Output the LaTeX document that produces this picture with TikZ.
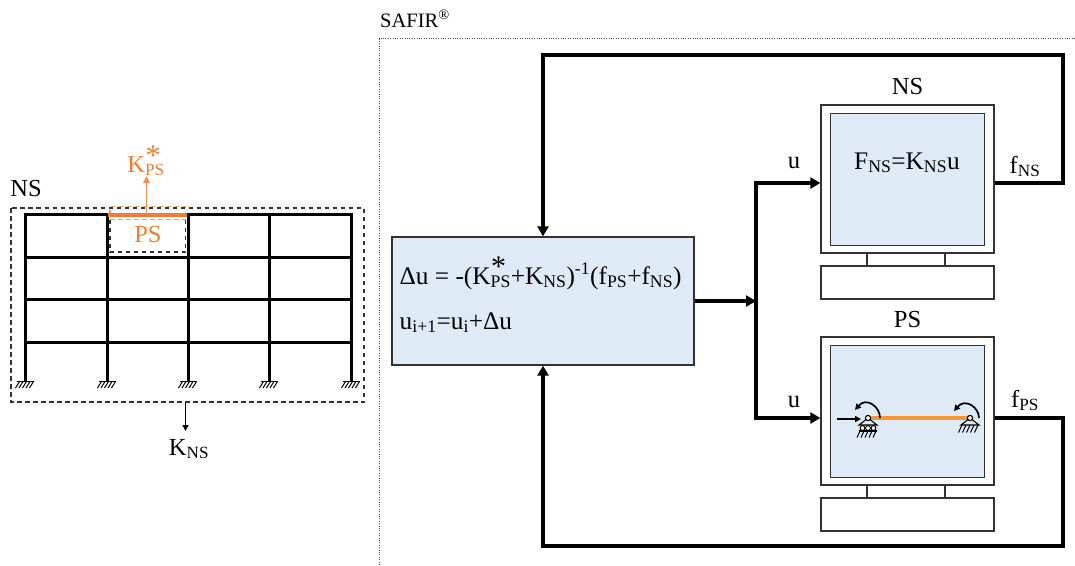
\documentclass[tikz,border=0pt]{standalone}
\usepackage{fontspec}
\setmainfont{Liberation Serif}
\usetikzlibrary{arrows.meta,calc}
\definecolor{paneblue}{RGB}{222,234,246}
\definecolor{psorange}{RGB}{237,125,49}
\definecolor{beamorange}{RGB}{247,150,50}
\newcommand{\sbs}[1]{\textsubscript{#1}}
\newcommand{\kstar}{K\rlap{\raisebox{0.28em}{\hspace{0.02em}\fontsize{30}{30}\selectfont *}}\sbs{PS}}
\tikzset{
  txt/.style={inner sep=0pt,font=\fontsize{24.5}{26}\selectfont},
  eqtxt/.style={inner sep=0pt,font=\fontsize{25.3}{27}\selectfont},
  flow/.style={line width=3.8pt,-{Triangle[length=10pt,width=11pt]},line join=miter},
  thin arrow/.style={line width=1.1pt,-{Triangle[length=6pt,width=6pt]}},
  pane/.style={draw=black!80,line width=1.3pt,fill=paneblue,inner sep=0pt,minimum width=153.5pt,minimum height=131.5pt},
  shell/.style={draw=black!80,line width=1.3pt,fill=white,inner sep=0pt,minimum width=173pt,minimum height=148pt},
  basebox/.style={draw=black!80,line width=1.3pt,fill=white,inner sep=0pt,minimum width=173pt,minimum height=33pt},
  member/.style={line width=3pt},
  dbox/.style={dash pattern=on 4.5pt off 3.5pt,line width=1.15pt,draw=black!80},
  obox/.style={dash pattern=on 4.5pt off 3.5pt,line width=1.15pt,draw=psorange!75},
}
\newcommand{\hatchrow}[2]{%
  \draw[line width=1.3pt] (#1-8,#2) -- (#1+9,#2);
  \foreach \k in {-7,-3.5,0,3.5,7}{\draw[line width=1pt] (#1+\k+1.5,#2) -- (#1+\k-2.5,#2+6.5);}
}
\begin{document}
\begin{tikzpicture}[x=1pt,y=-1pt]
\useasboundingbox (0,0) rectangle (1075,565);
% SAFIR region
\coordinate (safirbl) at (379,565);
\coordinate (safirtl) at (379,38.5);
\coordinate (safirtr) at (1075,38.5);
\draw[black!70,line width=1pt,dash pattern=on 1pt off 1.4pt] (safirbl) -- (safirtl) -- (safirtr);
\node[anchor=base west,inner sep=0pt,font=\fontsize{20.5}{22}\selectfont] (safir) at (380,27) {SAFIR\textsuperscript{®}};
% Main box
\node[draw=black!80,line width=1.3pt,fill=paneblue,minimum width=302pt,minimum height=128pt,inner sep=0pt] (main) at (543,301) {};
\node[eqtxt,anchor=base west] (eq1) at (399.5,284) {Δu = -(\kstar+K\sbs{NS})\textsuperscript{-1}(f\sbs{PS}+f\sbs{NS})};
\node[eqtxt,anchor=base west] (eq2) at (399.5,329) {u\sbs{i+1}=u\sbs{i}+Δu};
% NS monitor
\node[shell] (nsshell) at (907.5,179) {};
\node[pane] (nspane) at (907.5,179.5) {};
\node[basebox] (nsbase) at (907.5,282.5) {};
\draw[black!80,line width=1.3pt] (867,253) -- (867,266) (945,253) -- (945,266);
\node[txt] (nstitle) at (907.5,87) {NS};
\node[eqtxt,anchor=base] (nseq) at (907,169) {F\sbs{NS}=K\sbs{NS}u};
% PS monitor
\node[shell] (psshell) at (907.5,411) {};
\node[pane] (pspane) at (907.5,411.5) {};
\node[basebox] (psbase) at (907.5,514.5) {};
\draw[black!80,line width=1.3pt] (867,485) -- (867,498) (945,485) -- (945,498);
\node[txt] (pstitle) at (907.5,320) {PS};
% flows
\coordinate (jn) at (756,301);
\coordinate (jnu) at (756,183);
\coordinate (jnd) at (756,418);
\coordinate (nsin) at (nsshell.west |- jnu);
\coordinate (psin) at (psshell.west |- jnd);
\draw[flow] (main.east) -- (jn);
\draw[flow] (jn) -- (jnu) -- (nsin);
\draw[flow] (jn) -- (jnd) -- (psin);
\coordinate (nsout) at (nsshell.east |- jnu);
\coordinate (psout) at (psshell.east |- jnd);
\coordinate (tr) at (1063,55);
\coordinate (br) at (1063,546);
\draw[flow] (nsout) -- (tr |- nsout) -- (tr) -- (main.north |- tr) -- (main.north);
\draw[flow] (psout) -- (br |- psout) -- (br) -- (main.south |- br) -- (main.south);
\node[txt,anchor=base] (u1) at (794,168) {u};
\node[txt,anchor=base] (u2) at (794,407) {u};
\node[txt,anchor=base] (fns) at (1025,173) {f\sbs{NS}};
\node[txt,anchor=base] (fps) at (1025,407) {f\sbs{PS}};
% PS beam
\draw[beamorange,line width=4pt] (871,418) -- (968,418);
\draw[line width=1.7pt,-{Triangle[length=6pt,width=6pt]}] (837,419) -- (861,419);
\draw[line width=1.7pt,-{Triangle[length=6pt,width=6pt]}] (880,418) .. controls (880,406) and (866,397) .. (855,410);
\draw[line width=1.7pt,-{Triangle[length=6pt,width=6pt]}] (979,418) .. controls (979,407) and (965,398) .. (954,411);
\foreach \hx in {868,970}{
  \draw[line width=1.1pt] (\hx,418) -- (\hx-9,425) -- (\hx+9,425) -- cycle;
  \draw[line width=1.1pt,fill=white] (\hx,418) circle (2.6);
}
\foreach \rx in {862.5,868,873.5}{\draw[line width=0.9pt,fill=white] (\rx,428) circle (2.4);}
\draw[line width=1.3pt] (859,431) -- (877,431);
\foreach \k in {0,4,8,12,16}{\draw[line width=1pt] (860+\k,431) -- (857+\k,437.5);}
\foreach \k in {0,4,8,12,16}{\draw[line width=1pt] (962+\k,425) -- (958.5+\k,432.5);}
% Left frame
\draw[dbox] (11,208) rectangle (364,402);
\coordinate (kdown) at (185.5,402);
\coordinate (kend) at (185.5,431);
\draw[thin arrow] (kdown) -- (kend);
\node[txt,anchor=base] (kns) at (189,455) {K\sbs{NS}};
\node[txt] (nsl) at (26,189) {NS};
\foreach \cx in {25,107,188,269,351}{
  \draw[member] (\cx,212.5) -- (\cx,381);
  \hatchrow{\cx}{381.5}
}
\foreach \fy in {214,257,299,342}{\draw[member] (25,\fy) -- (351,\fy);}
% PS box
\draw[obox] (110,219.5) -- (185.5,219.5);
\draw[obox] (110,214) -- (110,206.5) -- (185.5,206.5) -- (185.5,214);
\draw[dbox] (110,219.5) -- (110,252) -- (185.5,252) -- (185.5,219.5);
\draw[psorange,line width=4pt] (108,214.5) -- (187,214.5);
\coordinate (kps0) at (146.5,214);
\coordinate (kps1) at (146.5,176);
\draw[psorange!85,line width=1.2pt,-{Triangle[length=7pt,width=6.5pt]}] (kps0) -- (kps1);
\node[txt,text=psorange] (psl) at (148,235) {PS};
\node[txt,text=psorange,anchor=base] (kpsl) at (146,172) {\kstar};
\end{tikzpicture}
\end{document}
